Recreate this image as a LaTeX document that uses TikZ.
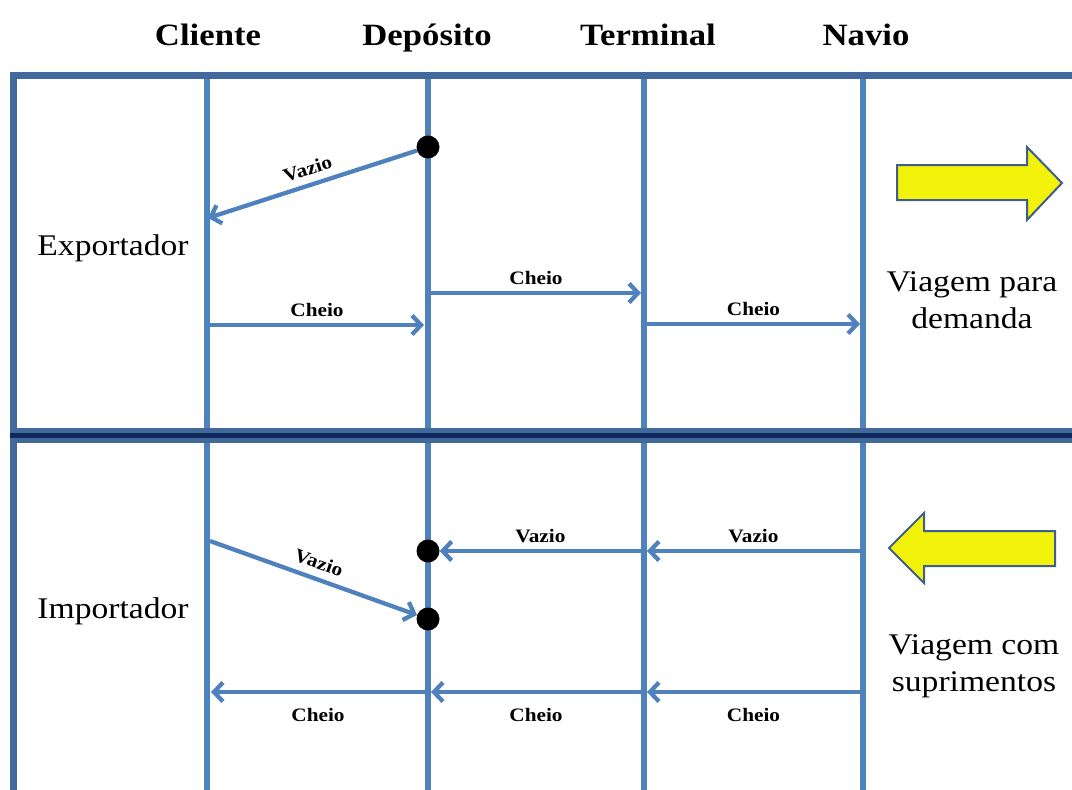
\documentclass[tikz,border=0pt]{standalone}
\usepackage{fontspec}
\setmainfont{Liberation Serif}[FakeStretch=1.12]
\usetikzlibrary{arrows.meta}

\definecolor{lineblue}{HTML}{4F81BD}
\definecolor{frameblue}{HTML}{41699B}
\definecolor{navyline}{HTML}{10295A}
\definecolor{boxyellow}{HTML}{F2F20A}
\definecolor{boxedge}{HTML}{3F5E8C}

\tikzset{
  column/.style={lineblue, line width=6.5pt},
  frame/.style={frameblue, line width=7pt},
  flow/.style={lineblue, line width=4.3pt, -{Straight Barb[length=9pt,width=19pt]}},
  flowback/.style={lineblue, line width=4.3pt, {Straight Barb[length=9pt,width=19pt]}-},
  flowlabel/.style={font=\bfseries\fontsize{19}{19}\selectfont, text=black},
  stopdot/.style={circle, fill=black, inner sep=0pt, minimum size=23pt},
  header/.style={font=\bfseries\fontsize{31}{31}\selectfont, anchor=base},
  side/.style={font=\fontsize{30}{37}\selectfont, align=center},
  bigarrow/.style={fill=boxyellow, draw=boxedge, line width=2pt, line join=miter},
}

\begin{document}
\begin{tikzpicture}[x=1pt,y=-1pt]
\useasboundingbox (0,0) rectangle (1072,790);

% columns and headers
\foreach \x/\tx/\id/\name in {207/208/cli/Cliente,428/427/dep/Depósito,644/648/ter/Terminal,863/866/nav/Navio}
{
    \draw[column] (\x,75) -- (\x,790);
    \node[header] (h\id) at (\tx,45) {\name};
}

% frame
\draw[frame] (13,73) -- (13,790);
\draw[frame] (10,75) -- (1072,75);
\draw[frameblue, line width=15pt] (10,435) -- (1072,435);
\draw[navyline, line width=5pt] (10,435) -- (1072,435);

% side texts
\node[side, anchor=base] (exp) at (113,255) {Exportador};
\node[side, anchor=base] (imp) at (113,618) {Importador};
\node[side] (trip1) at (972,300) {Viagem para\\demanda};
\node[side] (trip2) at (974,666) {Viagem com\\suprimentos};

% exporter side
\node[stopdot] (dep1) at (428,147) {};
\coordinate (cli1) at (208,218);
\coordinate (cli2) at (210,325);
\coordinate (dep2) at (424,325);
\coordinate (dep3) at (431,293);
\coordinate (ter1) at (641,293);
\coordinate (ter2) at (647,324);
\coordinate (nav1) at (860,324);

\draw[flowback] (cli1) -- node[flowlabel, sloped, above=4pt] {Vazio} (dep1);
\draw[flow] (cli2) -- node[flowlabel, above=3pt] {Cheio} (dep2);
\draw[flow] (dep3) -- node[flowlabel, above=3pt] {Cheio} (ter1);
\draw[flow] (ter2) -- node[flowlabel, above=3pt] {Cheio} (nav1);

% importer side
\node[stopdot] (dep4) at (428,551) {};
\node[stopdot] (dep5) at (428,619) {};
\coordinate (nav2) at (860,551);
\coordinate (ter3) at (647,551);
\coordinate (ter4) at (641,551);
\coordinate (cli3) at (210,541);
\coordinate (nav3) at (860,692);
\coordinate (ter5) at (647,692);
\coordinate (ter6) at (641,692);
\coordinate (dep6) at (431,692);
\coordinate (dep7) at (425,692);
\coordinate (cli4) at (211,692);

\draw[flow] (nav2) -- node[flowlabel, above=3pt] {Vazio} (ter3);
\draw[flow] (ter4) -- node[flowlabel, above=3pt] {Vazio} (dep4);
\draw[flow] (cli3) -- node[flowlabel, sloped, above=4pt] {Vazio} (dep5);
\draw[flow] (nav3) -- node[flowlabel, below=11pt] {Cheio} (ter5);
\draw[flow] (ter6) -- node[flowlabel, below=11pt] {Cheio} (dep6);
\draw[flow] (dep7) -- node[flowlabel, below=11pt] {Cheio} (cli4);

% ship arrows
\draw[bigarrow] (897,165) -- (1027,165) -- (1027,147) -- (1062,183)
      -- (1027,220) -- (1027,200) -- (897,200) -- cycle;
\draw[bigarrow] (1055,531) -- (924,531) -- (924,513) -- (889,548)
      -- (924,583) -- (924,566) -- (1055,566) -- cycle;
\end{tikzpicture}
\end{document}
